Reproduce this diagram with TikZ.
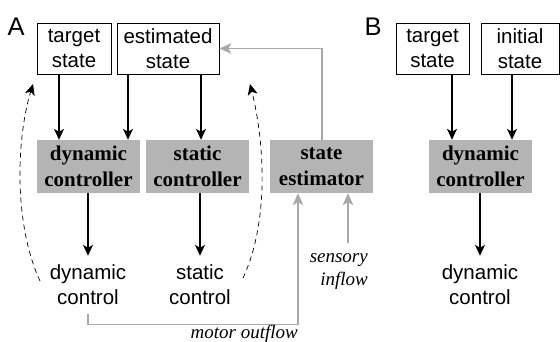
\documentclass[tikz,border=0pt]{standalone}
\usepackage{fontspec}
\setmainfont{Liberation Serif}
\setsansfont{Liberation Sans}
\usetikzlibrary{arrows.meta}
\definecolor{boxgray}{RGB}{180,180,180}
\definecolor{linegray}{RGB}{168,168,168}
\tikzset{
  statebox/.style={draw=black, line width=0.8pt, inner sep=0pt, align=center,
    minimum height=51pt, font=\sffamily\fontsize{20.5}{25}\selectfont},
  ctrlbox/.style={fill=boxgray, inner sep=0pt, align=center, minimum width=103pt,
    minimum height=53pt, font=\rmfamily\bfseries\fontsize{21}{26}\selectfont},
  outtext/.style={align=center, inner xsep=0pt, inner ysep=9pt,
    font=\sffamily\fontsize{20.5}{25}\selectfont},
  panel/.style={inner sep=0pt, anchor=base west, font=\sffamily\fontsize{25.5}{28}\selectfont},
  flowlabel/.style={inner sep=0pt, font=\rmfamily\itshape\fontsize{19}{23}\selectfont},
  arr/.style={line width=1.1pt, -{Stealth[length=11pt,width=10pt,inset=3pt]}},
  garr/.style={line width=1.4pt, draw=linegray, -{Stealth[length=12pt,width=10.5pt,inset=3pt]}},
  darr/.style={line width=0.7pt, dash pattern=on 5pt off 4pt, -{Stealth[length=11pt,width=10pt,inset=3pt]}}
}
\begin{document}
\begin{tikzpicture}[x=1pt, y=-1pt]
\useasboundingbox (0,0) rectangle (560,341);

% panel A
\node[panel] (labA) at (7.5,35) {A};
\node[statebox, minimum width=74pt] (tsA) at (74,48.5) {target\\state};
\node[statebox, minimum width=102pt] (esA) at (168,48.5) {estimated\\state};
\node[ctrlbox] (dcA) at (88.5,166.5) {dynamic\\controller};
\node[ctrlbox] (scA) at (197.5,166.5) {static\\controller};
\node[ctrlbox] (se) at (321.5,166.5) {state\\estimator};
\node[outtext] (dynA) at (88,285) {dynamic\\control};
\node[outtext] (stA) at (200,285) {static\\control};

\draw[arr] ([xshift=-15pt]tsA.south) -- ([xshift=-15pt]tsA.south |- dcA.north);
\draw[arr] ([xshift=-40pt]esA.south) -- ([xshift=-40pt]esA.south |- dcA.north);
\draw[arr] ([xshift=33pt]esA.south) -- ([xshift=33pt]esA.south |- scA.north);
\draw[arr] (dcA.south -| dynA.north) -- (dynA.north);
\draw[arr] (scA.south -| stA.north) -- (stA.north);

% dashed feedback from the control outputs to the state boxes
\coordinate (fbL) at (40,281);
\coordinate (fbLend) at (33,84);
\coordinate (fbR) at (243,278);
\coordinate (fbRend) at (250,84);
\draw[darr] (fbL) .. controls (14,225) and (16,140) .. (fbLend);
\draw[darr] (fbR) .. controls (270,220) and (264,140) .. (fbRend);

% estimator loop
\draw[garr] ([xshift=0.5pt]se.north) |- (esA.east);
\draw[garr] (dynA.south) -- ++(0,10) -| ([xshift=-23.5pt]se.south);
\coordinate (sens) at (348,243);
\draw[garr] (sens) -- ([xshift=26.5pt]se.south);
\node[flowlabel, anchor=north east, align=right] (sensL) at (368,253) {sensory\\inflow};
\node[flowlabel, anchor=base east] (motL) at (298,338) {motor outflow};

% panel B
\node[panel] (labB) at (364.5,35) {B};
\node[statebox, minimum width=73pt] (tsB) at (432.5,48.5) {target\\state};
\node[statebox, minimum width=78pt] (isB) at (520,48.5) {initial\\state};
\node[ctrlbox] (dcB) at (480.5,166.5) {dynamic\\controller};
\node[outtext] (dynB) at (480,285) {dynamic\\control};

\draw[arr] ([xshift=19.5pt]tsB.south) -- ([xshift=19.5pt]tsB.south |- dcB.north);
\draw[arr] ([xshift=-8pt]isB.south) -- ([xshift=-8pt]isB.south |- dcB.north);
\draw[arr] (dcB.south -| dynB.north) -- (dynB.north);
\end{tikzpicture}
\end{document}
